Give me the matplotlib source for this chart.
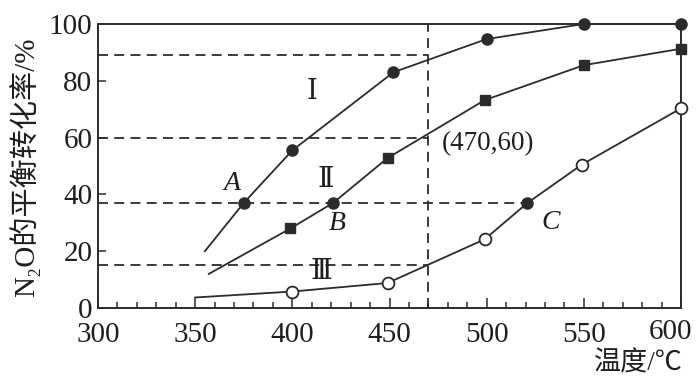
import matplotlib
matplotlib.use("Agg")
import matplotlib.pyplot as plt
from matplotlib.ticker import MultipleLocator

# ---- data ----
T_I = [355, 375, 400, 452, 500, 550, 600]
conv_I = [20, 37, 55.5, 83, 94.7, 100, 100]

T_II = [357, 399, 421, 449, 499, 550, 600]
conv_II = [12, 28, 37, 52.8, 73.2, 85.5, 91.3]

T_III = [350, 400, 449, 499, 521, 549, 600]
conv_III = [3.7, 5.8, 8.8, 24.2, 37, 50.5, 70.3]

ref_levels = [89, 60, 15]      # dashed lines ending at 470
A_level = 37                   # dashed line through A, B, C
x_ref = 470
x_C = 521

x_ticks = [300, 350, 400, 450, 500, 550, 600]
y_ticks = [0, 20, 40, 60, 80, 100]

serif = ['Liberation Serif', 'DejaVu Serif']
cjk = ['Liberation Serif', 'Noto Sans CJK SC', 'DejaVu Sans']
col = '#2b2b2b'
tcol = '#1e1e1e'

fig = plt.figure(figsize=(6.97, 3.79), dpi=100)
ax = fig.add_axes([98/697, 1-308/379, (681-98)/697, (308-24)/379])
ax.set_xlim(300, 600)
ax.set_ylim(0, 100)

dash = dict(color=col, lw=1.3, ls=(0, (5.5, 3.5)), zorder=1)
for lv in ref_levels:
    ax.plot([300, x_ref], [lv, lv], **dash)
ax.plot([300, x_C], [A_level, A_level], **dash)
ax.plot([x_ref, x_ref], [0, 100], **dash)

lkw = dict(color=col, lw=1.3, zorder=3, clip_on=False)
# curve I
ax.plot(T_I, conv_I, **lkw)
ax.plot(T_I[1:], conv_I[1:], 'o', ms=8, color=col, zorder=4, clip_on=False)
# curve II
ax.plot(T_II, conv_II, **lkw)
sq = [1, 3, 4, 5, 6]
ax.plot([T_II[i] for i in sq], [conv_II[i] for i in sq], 's', ms=7.5, color=col, zorder=4, clip_on=False)
ax.plot([T_II[2]], [conv_II[2]], 'o', ms=8, color=col, zorder=4, clip_on=False)
# curve III
ax.plot(T_III, conv_III, **lkw)
oc = [1, 2, 3, 5, 6]
ax.plot([T_III[i] for i in oc], [conv_III[i] for i in oc], 'o', ms=8.5, mfc='white', mec=col,
        mew=1.3, zorder=4, clip_on=False)
ax.plot([T_III[4]], [conv_III[4]], 'o', ms=8, color=col, zorder=4, clip_on=False)

# labels
tk = dict(fontsize=20, color=tcol, family=serif, ha='center', va='center')
ax.text(410, 76, 'Ⅰ', **tk)
ax.text(417, 45, 'Ⅱ', **tk)
ax.text(415, 12.5, 'Ⅲ', **tk)
ax.text(369, 44, 'A', style='italic', **tk)
ax.text(423, 29.6, 'B', style='italic', **tk)
ax.text(533, 30, 'C', style='italic', **tk)
ax.text(477, 58, '(470,60)', fontsize=19.5, color=tcol, family=serif, ha='left', va='center')

# axes styling
for s in ax.spines.values():
    s.set_color(col)
    s.set_linewidth(1.4)
ax.set_xticks(x_ticks)
xlabels = [str(t) for t in x_ticks]
ax.set_xticklabels(xlabels[:-1] + [''])
# last tick label nudged left so it fits inside the canvas, as in the reference
ax.annotate(xlabels[-1], xy=(x_ticks[-1], 0), xycoords=('data', 'axes fraction'),
            xytext=(-10, -24), textcoords='offset pixels', ha='center', va='center',
            fontsize=21, color=tcol, family=serif, annotation_clip=False)
ax.set_yticks(y_ticks)
ax.xaxis.set_minor_locator(MultipleLocator(10))
ax.tick_params(axis='x', which='major', direction='in', length=7.5, width=1.1, color=col,
               pad=10, labelsize=21, labelcolor=tcol)
ax.tick_params(axis='x', which='minor', direction='in', length=4.5, width=1.1, color=col)
ax.tick_params(axis='y', which='major', direction='in', length=5.5, width=1.1, color=col,
               pad=4, labelsize=21, labelcolor=tcol)
for lab in ax.get_xticklabels() + ax.get_yticklabels():
    lab.set_family(serif)

fig.text(25/697, 1-167/379, 'N₂O的平衡转化率/%', rotation=90, ha='center', va='center',
         fontsize=21, family=cjk, color=tcol)
fig.text(593/697, 1-364/379, '温度/℃', ha='left', va='center', fontsize=19.5, family=cjk,
         color=tcol)

fig.savefig('out.png', dpi=100)
